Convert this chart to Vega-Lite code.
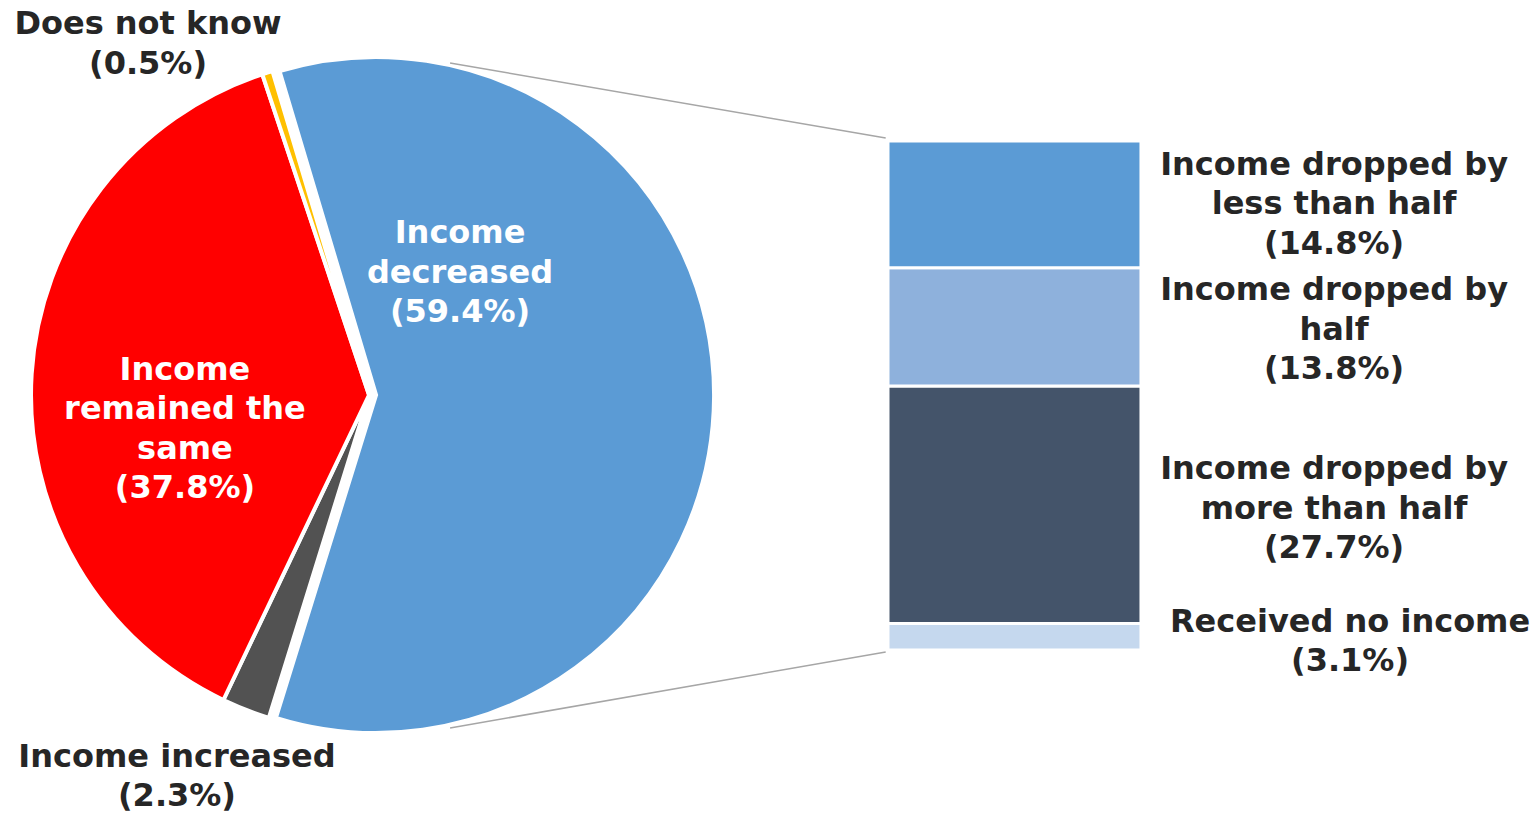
{
  "$schema": "https://vega.github.io/schema/vega-lite/v6.json",
  "width": 1535,
  "height": 816,
  "padding": 0,
  "autosize": {"type": "none"},
  "background": "white",
  "config": {
    "view": {"stroke": null},
    "text": {"font": "DejaVu Sans", "fontWeight": "bold", "fontSize": 32, "lineHeight": 39.5, "align": "center", "baseline": "middle", "color": "#262626"}
  },
  "datasets": {
    "pie": [
      {"category": "Income decreased", "value": 59.4, "seq": 1},
      {"category": "Income increased", "value": 2.3, "seq": 2},
      {"category": "Income remained the same", "value": 37.8, "seq": 3},
      {"category": "Does not know", "value": 0.5, "seq": 4}
    ],
    "bar": [
      {"category": "Received no income", "value": 3.1, "seq": 1},
      {"category": "Income dropped by more than half", "value": 27.7, "seq": 2},
      {"category": "Income dropped by half", "value": 13.8, "seq": 3},
      {"category": "Income dropped by less than half", "value": 14.8, "seq": 4}
    ]
  },
  "layer": [
    {
      "data": {"name": "pie"},
      "mark": {"type": "arc", "radius": 338, "stroke": "white", "strokeWidth": 4},
      "encoding": {
        "x": {"datum": 24.04, "type": "quantitative", "scale": {"domain": [0, 100], "nice": false, "zero": false}, "axis": null},
        "y": {"datum": 29.76, "type": "quantitative", "scale": {"domain": [-19.372, 75.855], "nice": false, "zero": false}, "axis": null},
        "theta": {"field": "value", "type": "quantitative", "stack": true, "scale": {"domain": [0, 100], "range": [-0.2897, 5.9935]}},
        "order": {"field": "seq", "type": "quantitative"},
        "color": {
          "field": "category", "type": "nominal", "legend": null,
          "scale": {
            "domain": ["Income decreased", "Income increased", "Income remained the same", "Does not know", "Income dropped by less than half", "Income dropped by half", "Income dropped by more than half", "Received no income"],
            "range": ["#5B9BD5", "#525252", "#FF0000", "#FFC000", "#5B9BD5", "#8EB1DC", "#44546A", "#C5D8EE"]
          }
        },
        "opacity": {"condition": {"test": "datum.category === 'Income decreased'", "value": 0}, "value": 1}
      }
    },
    {
      "data": {"name": "pie"},
      "mark": {"type": "arc", "radius": 338, "stroke": "white", "strokeWidth": 4},
      "encoding": {
        "x": {"datum": 24.5, "type": "quantitative"},
        "y": {"datum": 29.76, "type": "quantitative"},
        "theta": {"field": "value", "type": "quantitative", "stack": true},
        "order": {"field": "seq", "type": "quantitative"},
        "color": {"field": "category", "type": "nominal", "legend": null},
        "opacity": {"condition": {"test": "datum.category === 'Income decreased'", "value": 1}, "value": 0}
      }
    },
    {
      "data": {"name": "bar"},
      "transform": [{"stack": "value", "groupby": [], "sort": [{"field": "seq", "order": "ascending"}], "as": ["y0", "y1"]}],
      "mark": {"type": "rect", "stroke": "white", "strokeWidth": 3},
      "encoding": {
        "x": {"datum": 57.85, "type": "quantitative"},
        "x2": {"datum": 74.33},
        "y": {"field": "y0", "type": "quantitative"},
        "y2": {"field": "y1"},
        "color": {"field": "category", "type": "nominal", "legend": null}
      }
    },
    {
      "data": {"values": [{}]},
      "mark": {"type": "rule", "color": "#A6A6A6", "strokeWidth": 1.5},
      "encoding": {
        "x": {"datum": 29.32, "type": "quantitative"},
        "y": {"datum": 68.5, "type": "quantitative"},
        "x2": {"datum": 57.7},
        "y2": {"datum": 59.75}
      }
    },
    {
      "data": {"values": [{}]},
      "mark": {"type": "rule", "color": "#A6A6A6", "strokeWidth": 1.5},
      "encoding": {
        "x": {"datum": 29.32, "type": "quantitative"},
        "y": {"datum": -9.1, "type": "quantitative"},
        "x2": {"datum": 57.7},
        "y2": {"datum": -0.23}
      }
    },
    {
      "data": {"values": [{}]},
      "mark": {"type": "text"},
      "encoding": {
        "x": {"datum": 9.642, "type": "quantitative"},
        "y": {"datum": 73.05, "type": "quantitative"},
        "text": {"value": ["Does not know", "(0.5%)"]}
      }
    },
    {
      "data": {"values": [{}]},
      "mark": {"type": "text", "color": "white"},
      "encoding": {
        "x": {"datum": 29.97, "type": "quantitative"},
        "y": {"datum": 48.66, "type": "quantitative"},
        "text": {"value": ["Income", "decreased", "(59.4%)"]}
      }
    },
    {
      "data": {"values": [{}]},
      "mark": {"type": "text", "color": "white"},
      "encoding": {
        "x": {"datum": 12.05, "type": "quantitative"},
        "y": {"datum": 32.68, "type": "quantitative"},
        "text": {"value": ["Income", "remained the", "same", "(37.8%)"]}
      }
    },
    {
      "data": {"values": [{}]},
      "mark": {"type": "text"},
      "encoding": {
        "x": {"datum": 11.53, "type": "quantitative"},
        "y": {"datum": -12.44, "type": "quantitative"},
        "text": {"value": ["Income increased", "(2.3%)"]}
      }
    },
    {
      "data": {"values": [{}]},
      "mark": {"type": "text"},
      "encoding": {
        "x": {"datum": 86.91, "type": "quantitative"},
        "y": {"datum": 56.6, "type": "quantitative"},
        "text": {"value": ["Income dropped by", "less than half", "(14.8%)"]}
      }
    },
    {
      "data": {"values": [{}]},
      "mark": {"type": "text"},
      "encoding": {
        "x": {"datum": 86.91, "type": "quantitative"},
        "y": {"datum": 42.01, "type": "quantitative"},
        "text": {"value": ["Income dropped by", "half", "(13.8%)"]}
      }
    },
    {
      "data": {"values": [{}]},
      "mark": {"type": "text"},
      "encoding": {
        "x": {"datum": 86.91, "type": "quantitative"},
        "y": {"datum": 21.12, "type": "quantitative"},
        "text": {"value": ["Income dropped by", "more than half", "(27.7%)"]}
      }
    },
    {
      "data": {"values": [{}]},
      "mark": {"type": "text"},
      "encoding": {
        "x": {"datum": 87.95, "type": "quantitative"},
        "y": {"datum": 3.27, "type": "quantitative"},
        "text": {"value": ["Received no income", "(3.1%)"]}
      }
    }
  ]
}
